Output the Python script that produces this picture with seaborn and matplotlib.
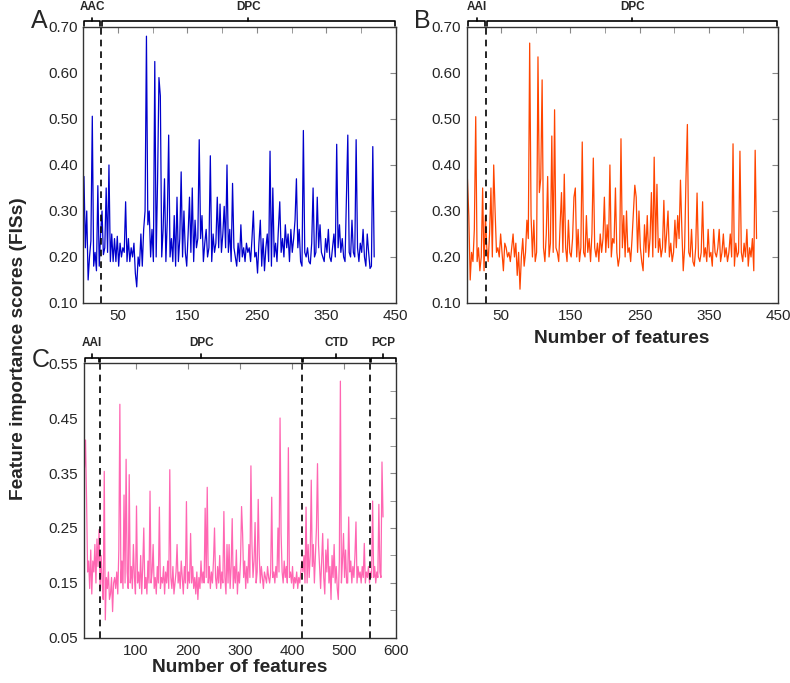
import matplotlib
matplotlib.use("Agg")
import matplotlib.pyplot as plt
import matplotlib.ticker as mticker
import matplotlib.transforms as mtransforms
import numpy as np
import pandas as pd
import seaborn as sns

# Feature importance scores, one value every second feature (1, 3, 5, ...)
fis_a = [
    0.375, 0.22, 0.30, 0.15, 0.20, 0.235, 0.506, 0.18, 0.21, 0.17,
    0.355, 0.18, 0.25, 0.30, 0.205, 0.22, 0.35, 0.21, 0.40, 0.19,
    0.25, 0.19, 0.24, 0.19, 0.245, 0.18, 0.23, 0.20, 0.22, 0.21,
    0.32, 0.19, 0.24, 0.19, 0.22, 0.20, 0.23, 0.165, 0.135, 0.20,
    0.18, 0.25, 0.18, 0.26, 0.30, 0.68, 0.27, 0.30, 0.20, 0.26,
    0.19, 0.625, 0.20, 0.365, 0.59, 0.55, 0.20, 0.26, 0.37, 0.19,
    0.28, 0.465, 0.20, 0.24, 0.19, 0.29, 0.18, 0.33, 0.19, 0.24,
    0.385, 0.20, 0.30, 0.21, 0.18, 0.25, 0.33, 0.21, 0.35, 0.19,
    0.28, 0.22, 0.24, 0.455, 0.24, 0.29, 0.19, 0.23, 0.26, 0.20,
    0.22, 0.42, 0.19, 0.25, 0.21, 0.23, 0.33, 0.22, 0.315, 0.21,
    0.25, 0.31, 0.22, 0.40, 0.21, 0.26, 0.19, 0.36, 0.22, 0.20,
    0.18, 0.23, 0.19, 0.27, 0.20, 0.22, 0.19, 0.23, 0.21, 0.22,
    0.19, 0.24, 0.30, 0.20, 0.21, 0.165, 0.23, 0.28, 0.18, 0.24,
    0.17, 0.22, 0.25, 0.19, 0.43, 0.18, 0.35, 0.20, 0.23, 0.19,
    0.26, 0.32, 0.21, 0.24, 0.20, 0.27, 0.22, 0.25, 0.19, 0.26,
    0.21, 0.24, 0.28, 0.37, 0.22, 0.26, 0.19, 0.18, 0.475, 0.21,
    0.20, 0.22, 0.19, 0.185, 0.23, 0.35, 0.20, 0.21, 0.33, 0.22,
    0.27, 0.21, 0.20, 0.19, 0.24, 0.21, 0.26, 0.20, 0.19, 0.22,
    0.25, 0.20, 0.445, 0.22, 0.27, 0.21, 0.24, 0.20, 0.19, 0.33,
    0.465, 0.21, 0.20, 0.28, 0.21, 0.20, 0.455, 0.22, 0.19, 0.23,
    0.21, 0.26, 0.20, 0.18, 0.25, 0.21, 0.175, 0.18, 0.44, 0.20,
]

fis_b = [
    0.37, 0.29, 0.15, 0.21, 0.19, 0.26, 0.505, 0.19, 0.22, 0.17,
    0.20, 0.35, 0.17, 0.29, 0.22, 0.19, 0.25, 0.35, 0.20, 0.40,
    0.30, 0.21, 0.22, 0.20, 0.25, 0.21, 0.17, 0.23, 0.22, 0.20,
    0.21, 0.19, 0.22, 0.25, 0.20, 0.23, 0.16, 0.21, 0.13, 0.20,
    0.24, 0.18, 0.21, 0.28, 0.24, 0.665, 0.29, 0.20, 0.28, 0.19,
    0.21, 0.635, 0.34, 0.37, 0.585, 0.22, 0.19, 0.25, 0.375, 0.20,
    0.23, 0.463, 0.21, 0.52, 0.22, 0.21, 0.19, 0.27, 0.34, 0.21,
    0.38, 0.22, 0.19, 0.28, 0.21, 0.20, 0.24, 0.33, 0.35, 0.20,
    0.26, 0.19, 0.22, 0.45, 0.21, 0.20, 0.29, 0.21, 0.24, 0.19,
    0.25, 0.415, 0.22, 0.20, 0.23, 0.19, 0.25, 0.21, 0.24, 0.33,
    0.21, 0.27, 0.22, 0.40, 0.20, 0.24, 0.23, 0.35, 0.21, 0.18,
    0.20, 0.457, 0.22, 0.29, 0.20, 0.30, 0.21, 0.22, 0.19, 0.24,
    0.30, 0.356, 0.33, 0.21, 0.30, 0.22, 0.19, 0.17, 0.27, 0.21,
    0.29, 0.20, 0.24, 0.34, 0.20, 0.417, 0.22, 0.358, 0.21, 0.24,
    0.20, 0.22, 0.323, 0.21, 0.25, 0.30, 0.20, 0.23, 0.19, 0.21,
    0.28, 0.22, 0.29, 0.24, 0.367, 0.26, 0.17, 0.22, 0.372, 0.488,
    0.21, 0.20, 0.26, 0.19, 0.18, 0.22, 0.339, 0.20, 0.19, 0.21,
    0.32, 0.20, 0.22, 0.19, 0.26, 0.20, 0.21, 0.18, 0.26, 0.21,
    0.20, 0.22, 0.26, 0.19, 0.21, 0.25, 0.20, 0.22, 0.19, 0.21,
    0.25, 0.20, 0.446, 0.18, 0.23, 0.20, 0.21, 0.43, 0.21, 0.19,
    0.23, 0.20, 0.26, 0.18, 0.22, 0.20, 0.24, 0.17, 0.432, 0.24,
]

fis_c = [
    0.36, 0.41, 0.30, 0.17, 0.19, 0.14, 0.21, 0.13, 0.19, 0.17,
    0.22, 0.15, 0.23, 0.18, 0.247, 0.14, 0.20, 0.15, 0.12, 0.353,
    0.083, 0.16, 0.14, 0.17, 0.12, 0.13, 0.16, 0.098, 0.15, 0.16,
    0.14, 0.17, 0.13, 0.21, 0.475, 0.15, 0.19, 0.14, 0.31, 0.15,
    0.375, 0.17, 0.14, 0.347, 0.15, 0.18, 0.14, 0.22, 0.16, 0.13,
    0.29, 0.15, 0.17, 0.14, 0.20, 0.13, 0.18, 0.25, 0.14, 0.16,
    0.13, 0.19, 0.15, 0.317, 0.15, 0.17, 0.22, 0.14, 0.16, 0.13,
    0.18, 0.15, 0.288, 0.14, 0.16, 0.15, 0.18, 0.13, 0.17, 0.15,
    0.19, 0.14, 0.356, 0.16, 0.14, 0.18, 0.13, 0.15, 0.17, 0.22,
    0.15, 0.17, 0.14, 0.19, 0.16, 0.13, 0.18, 0.15, 0.298, 0.14,
    0.17, 0.15, 0.24, 0.15, 0.18, 0.14, 0.16, 0.13, 0.17, 0.12,
    0.16, 0.14, 0.19, 0.15, 0.17, 0.15, 0.286, 0.16, 0.324, 0.15,
    0.18, 0.14, 0.17, 0.15, 0.19, 0.25, 0.16, 0.14, 0.18, 0.15,
    0.20, 0.14, 0.17, 0.15, 0.28, 0.16, 0.13, 0.22, 0.15, 0.22,
    0.14, 0.18, 0.267, 0.14, 0.18, 0.15, 0.21, 0.13, 0.17, 0.15,
    0.19, 0.289, 0.24, 0.16, 0.19, 0.14, 0.18, 0.15, 0.22, 0.16,
    0.363, 0.22, 0.16, 0.19, 0.26, 0.15, 0.17, 0.302, 0.20, 0.15,
    0.18, 0.16, 0.14, 0.17, 0.16, 0.15, 0.18, 0.16, 0.15, 0.17,
    0.306, 0.16, 0.17, 0.15, 0.18, 0.16, 0.25, 0.17, 0.45, 0.24,
    0.17, 0.15, 0.19, 0.16, 0.18, 0.15, 0.396, 0.16, 0.17, 0.15,
    0.18, 0.14, 0.16, 0.15, 0.17, 0.14, 0.16, 0.15, 0.17, 0.19,
    0.17, 0.20, 0.15, 0.288, 0.15, 0.22, 0.16, 0.20, 0.337, 0.18,
    0.22, 0.15, 0.20, 0.25, 0.367, 0.22, 0.18, 0.14, 0.19, 0.24,
    0.16, 0.13, 0.21, 0.17, 0.23, 0.15, 0.18, 0.12, 0.20, 0.16,
    0.22, 0.15, 0.18, 0.14, 0.12, 0.19, 0.517, 0.15, 0.19, 0.24,
    0.16, 0.21, 0.15, 0.15, 0.27, 0.17, 0.19, 0.15, 0.18, 0.16,
    0.20, 0.261, 0.15, 0.18, 0.16, 0.17, 0.15, 0.18, 0.16, 0.222,
    0.15, 0.17, 0.16, 0.18, 0.15, 0.17, 0.16, 0.299, 0.16, 0.18,
    0.15, 0.17, 0.16, 0.293, 0.17, 0.16, 0.37, 0.27,
]

# Descriptor groups: names and boundaries (in number of features)
groups_a = ["AAC", "DPC"]
bounds_a = [0, 25, 450]
groups_b = ["AAI", "DPC"]
bounds_b = [0, 28, 450]
groups_c = ["AAI", "DPC", "CTD", "PCP"]
bounds_c = [0, 30, 420, 550, 600]


def draw_groups(ax, names, bounds):
    """Draws dashed separators and labelled brackets above the axes"""
    trans = mtransforms.blended_transform_factory(ax.transData, ax.transAxes)
    for b in bounds[1:-1]:
        ax.axvline(b, color="black", ls=(0, (4, 3)), lw=1.2)

    for name, lo, hi in zip(names, bounds[:-1], bounds[1:]):
        x0, x1 = lo + 1.5, hi - 1.0
        xm = (x0 + x1) / 2
        ax.plot([x0, x0, x1, x1], [1.003, 1.02, 1.02, 1.003],
                color="black", lw=1.2, transform=trans, clip_on=False)
        ax.plot([xm, xm], [1.02, 1.033], color="black", lw=1.2,
                transform=trans, clip_on=False)
        ax.text(xm, 1.072, name, transform=trans, ha="center", va="center",
                fontsize=8.5, fontweight="bold")


def plot_panel(ax, values, color, xlim, xmajor, xminor, ylim, ymajor, yminor):
    """Plots one feature importance curve"""
    x = np.arange(1, 2 * len(values), 2)
    df = pd.DataFrame({"feature": x, "fis": values})
    sns.lineplot(data=df, x="feature", y="fis", ax=ax, color=color,
                 lw=0.9, estimator=None)

    ax.set_xlim(xlim)
    ax.set_ylim(ylim)
    ax.set_xticks(xmajor)
    ax.set_xticks(xminor, minor=True)
    ax.set_yticks(ymajor)
    ax.set_yticks(yminor, minor=True)
    ax.yaxis.set_major_formatter(mticker.FormatStrFormatter("%.2f"))
    ax.set_xlabel("")
    ax.set_ylabel("")
    ax.tick_params(which="both", direction="in", top=True, right=True,
                   length=4, color="#888888", labelsize=11, pad=4)
    for s in ax.spines.values():
        s.set_color("#333333")
        s.set_linewidth(1.0)


sns.set_style("white")
plt.rcParams["font.family"] = ["Liberation Sans", "DejaVu Sans"]

fig = plt.figure(figsize=(7.9, 6.83), dpi=100)
ax_a = fig.add_axes([0.1054, 0.5564, 0.3955, 0.4041])
ax_b = fig.add_axes([0.5908, 0.5564, 0.3940, 0.4041])
ax_c = fig.add_axes([0.1063, 0.0659, 0.3950, 0.4026])

ticks_ab = dict(xlim=(0, 450), xmajor=[50, 150, 250, 350, 450],
                xminor=[100, 200, 300, 400], ylim=(0.10, 0.70),
                ymajor=np.arange(0.1, 0.71, 0.1), yminor=[])
plot_panel(ax_a, fis_a, "#0000cc", **ticks_ab)
plot_panel(ax_b, fis_b, "#ff4500", **ticks_ab)
plot_panel(ax_c, fis_c, "#ff66b2", xlim=(0, 600),
           xmajor=[100, 200, 300, 400, 500, 600], xminor=[],
           ylim=(0.05, 0.55), ymajor=np.arange(0.05, 0.56, 0.1),
           yminor=np.arange(0.10, 0.51, 0.1))

draw_groups(ax_a, groups_a, bounds_a)
draw_groups(ax_b, groups_b, bounds_b)
draw_groups(ax_c, groups_c, bounds_c)

# Panel letters and shared labels
fig.text(0.050, 0.959, "A", fontsize=18, ha="center", va="baseline")
fig.text(0.535, 0.959, "B", fontsize=18, ha="center", va="baseline")
fig.text(0.051, 0.463, "C", fontsize=18, ha="center", va="baseline")
fig.text(0.023, 0.49, "Feature importance scores (FISs)", rotation=90,
         ha="center", va="center", fontsize=13.8, fontweight="bold")
fig.text(0.787, 0.505, "Number of features", ha="center", va="center",
         fontsize=13.8, fontweight="bold")
fig.text(0.304, 0.022, "Number of features", ha="center", va="center",
         fontsize=13.8, fontweight="bold")

fig.savefig("out.png", dpi=100)
